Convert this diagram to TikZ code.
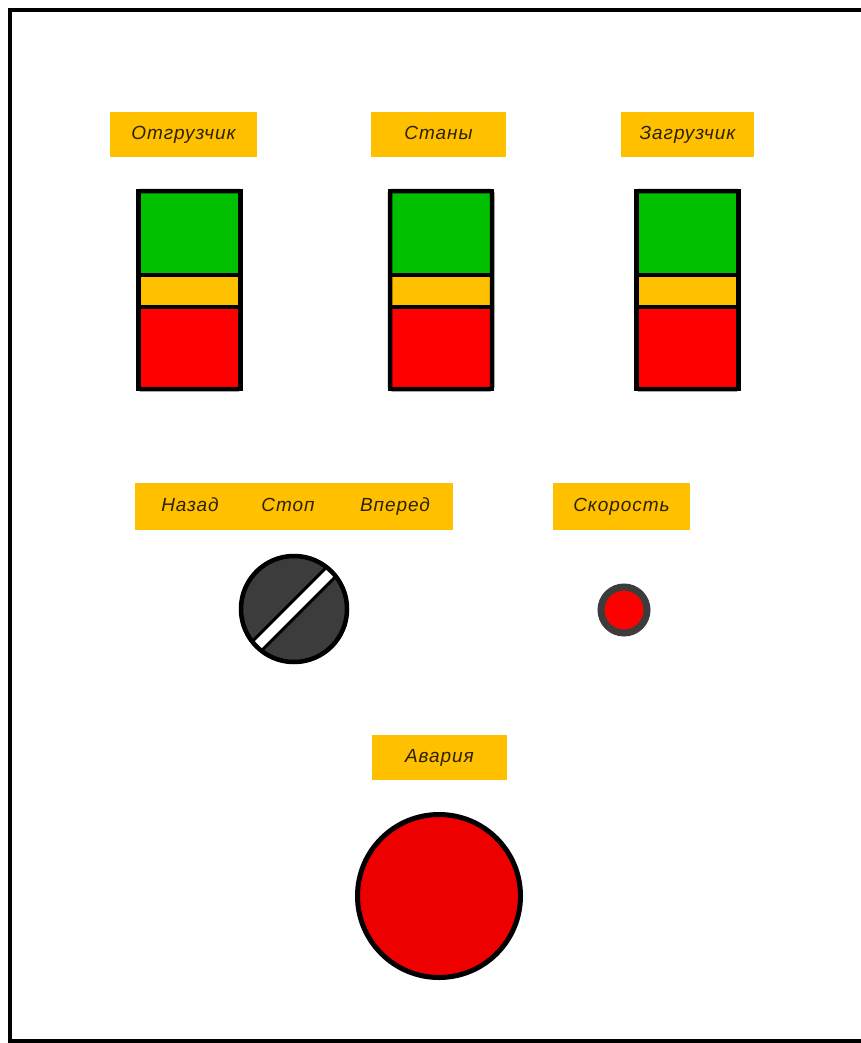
\documentclass[tikz,border=0pt]{standalone}
\usepackage{fontspec}
\setmainfont{Liberation Sans}
\definecolor{plateyellow}{HTML}{FFC000}
\definecolor{labeltext}{HTML}{2E2200}
\definecolor{lampgreen}{HTML}{00C000}
\definecolor{lampred}{HTML}{FF0000}
\definecolor{knobgray}{HTML}{3C3C3C}
\definecolor{stopred}{HTML}{EE0000}
\begin{document}
\begin{tikzpicture}[
        x=1pt, y=-1pt,
        plate/.style={fill=plateyellow, minimum height=45pt, inner sep=0pt},
        caption/.style={text=labeltext, inner sep=0pt, text height=14pt, text depth=4pt,
            font=\itshape\fontsize{19}{19}\selectfont\addfontfeatures{LetterSpace=5}},
        lamp/.style={draw=black, line width=4.5pt}
    ]
    \useasboundingbox (0,0) rectangle (860,1043);
    % panel frame, right edge runs off the sheet
    \draw[line width=3.5pt] (880,10) -- (10,10) -- (10,1041) -- (880,1041);

    % name plates
    \node[plate, minimum width=147pt] (unloader) at (183.5,134.5) {};
    \node[caption] at (unloader) {Отгрузчик};
    \node[plate, minimum width=135pt] (mills) at (438.5,134.5) {};
    \node[caption] at (mills) {Станы};
    \node[plate, minimum width=133pt] (loader) at (687.5,134.5) {};
    \node[caption] at (loader) {Загрузчик};

    % signal columns
    \foreach \cx/\name in {189.5/lampA, 441/lampB, 687.5/lampC} {
        \draw[lamp, fill=lampgreen] (\cx-51,191) rectangle (\cx+51,275);
        \draw[lamp, fill=plateyellow] (\cx-51,275) rectangle (\cx+51,307);
        \draw[lamp, fill=lampred] (\cx-51,307) rectangle (\cx+51,389);
        \draw[lamp, rounded corners=2pt] (\cx-51,191) rectangle (\cx+51,389);
        \coordinate (\name) at (\cx,290);
    }

    % direction switch
    \node[plate, minimum width=318pt, minimum height=47pt] (direction) at (294,506.5) {};
    \node[caption] (back) at (190,506.5) {Назад};
    \node[caption] (stop) at (288,506.5) {Стоп};
    \node[caption] (fwd) at (395,506.5) {Вперед};
    \node[circle, fill=knobgray, minimum size=110pt, inner sep=0pt] (knob) at (294,609) {};
    \begin{scope}
        \clip (knob.center) circle (55);
        \node[rotate=45, fill=white, draw=black, line width=3pt,
            minimum width=130pt, minimum height=13pt, inner sep=0pt] at (knob.center) {};
    \end{scope}
    \draw[line width=4.5pt] (knob.center) circle (53);

    % speed button
    \node[plate, minimum width=137pt, minimum height=47pt] (speedplate) at (621.5,506.5) {};
    \node[caption] at (speedplate) {Скорость};
    \node[circle, fill=lampred, draw=knobgray, line width=7pt,
        minimum size=46pt, inner sep=0pt] (speed) at (624,610) {};

    % emergency stop
    \node[plate, minimum width=135pt] (alarmplate) at (439.5,757.5) {};
    \node[caption] at (alarmplate) {Авария};
    \node[circle, fill=stopred, draw=black, line width=5pt,
        minimum size=163pt, inner sep=0pt] (estop) at (439,896) {};
\end{tikzpicture}
\end{document}
